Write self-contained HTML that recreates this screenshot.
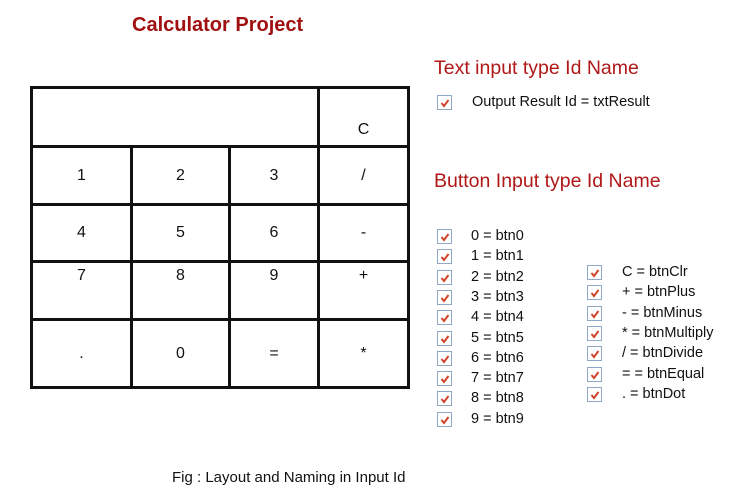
<!DOCTYPE html>
<html><head><meta charset="utf-8"><style>
body{margin:0;width:748px;height:498px;background:#fff;position:relative;overflow:hidden;font-family:"Liberation Sans",Arial,sans-serif;color:#111}
.a{position:absolute;white-space:nowrap}
.cell{position:absolute;box-sizing:border-box;border:3px solid #111;font-size:16px;display:flex;justify-content:center}
.cb{position:absolute;width:15px;height:15px;box-sizing:border-box;border:1.5px solid #8fa9c4;background:#fff}
.cb svg{position:absolute;left:1px;top:1px}
.t{position:absolute;font-size:14.5px;white-space:nowrap}
</style></head><body>
<div class="a" style="left:132px;top:14px;font-size:20px;font-weight:bold;color:#a01010">Calculator Project</div>
<div class="a" style="left:434px;top:57px;font-size:19.5px;color:#b01818">Text input type Id Name</div>
<div class="a" style="left:434px;top:170px;font-size:19.5px;color:#b01818">Button Input type Id Name</div>
<div class="a" style="left:172px;top:469px;font-size:15px">Fig : Layout and Naming in Input Id</div>
<div id="grid"></div>
<div id="lists"></div>
<script>
const xs=[30,130,228,317,407], ys=[86,145,203,260,318,386];
const g=document.getElementById('grid');
function cell(x0,x1,y0,y1,txt,align,name){
  const d=document.createElement('div');d.className='cell';
  
  
  d.style.left=x0+'px';d.style.top=y0+'px';d.style.width=(x1-x0+3)+'px';d.style.height=(y1-y0+3)+'px';
  d.style.alignItems=align;d.style.paddingTop=align==='flex-start'?'4px':'0';d.style.paddingBottom=align==='flex-end'?'6px':'0';
  d.textContent=txt;g.appendChild(d);
}
cell(xs[0],xs[3],ys[0],ys[1],'','center','result-display');
cell(xs[3],xs[4],ys[0],ys[1],'C','flex-end','clear-button');
const labels=[['1','2','3','/'],['4','5','6','-'],['7','8','9','+'],['.','0','=','*']];
const al=['center','center','flex-start','center'];
labels.forEach((r,ri)=>r.forEach((t,ci)=>cell(xs[ci],xs[ci+1],ys[ri+1],ys[ri+2],t,al[ri],'key-'+ri+'-'+ci)));
const L=document.getElementById('lists');
const check='<svg width="12" height="12" viewBox="0 0 12 12"><path d="M2.5 6 L5 9 L9.5 3" stroke="#d0452a" stroke-width="2" fill="none"/></svg>';
function item(x,y,txt,tx,name){
  const c=document.createElement('div');c.className='cb';c.innerHTML=check;
  
  
  c.style.left=x+'px';c.style.top=(y-8)+'px';L.appendChild(c);
  const s=document.createElement('div');s.className='t';
  
  
  s.style.left=tx+'px';s.style.top=(y-9)+'px';s.textContent=txt;L.appendChild(s);
}
item(437,103,'Output Result  Id = txtResult',472,'txtresult');
for(let i=0;i<10;i++) item(437,237+i*20.3,i+' = btn'+i,471,'btn'+i);
const right=['C = btnClr','+ = btnPlus','- = btnMinus','* = btnMultiply','/ = btnDivide','= = btnEqual','.  = btnDot'];
right.forEach((t,i)=>item(587,273+i*20.3,t,622,'op'+i));
</script>
</body></html>
